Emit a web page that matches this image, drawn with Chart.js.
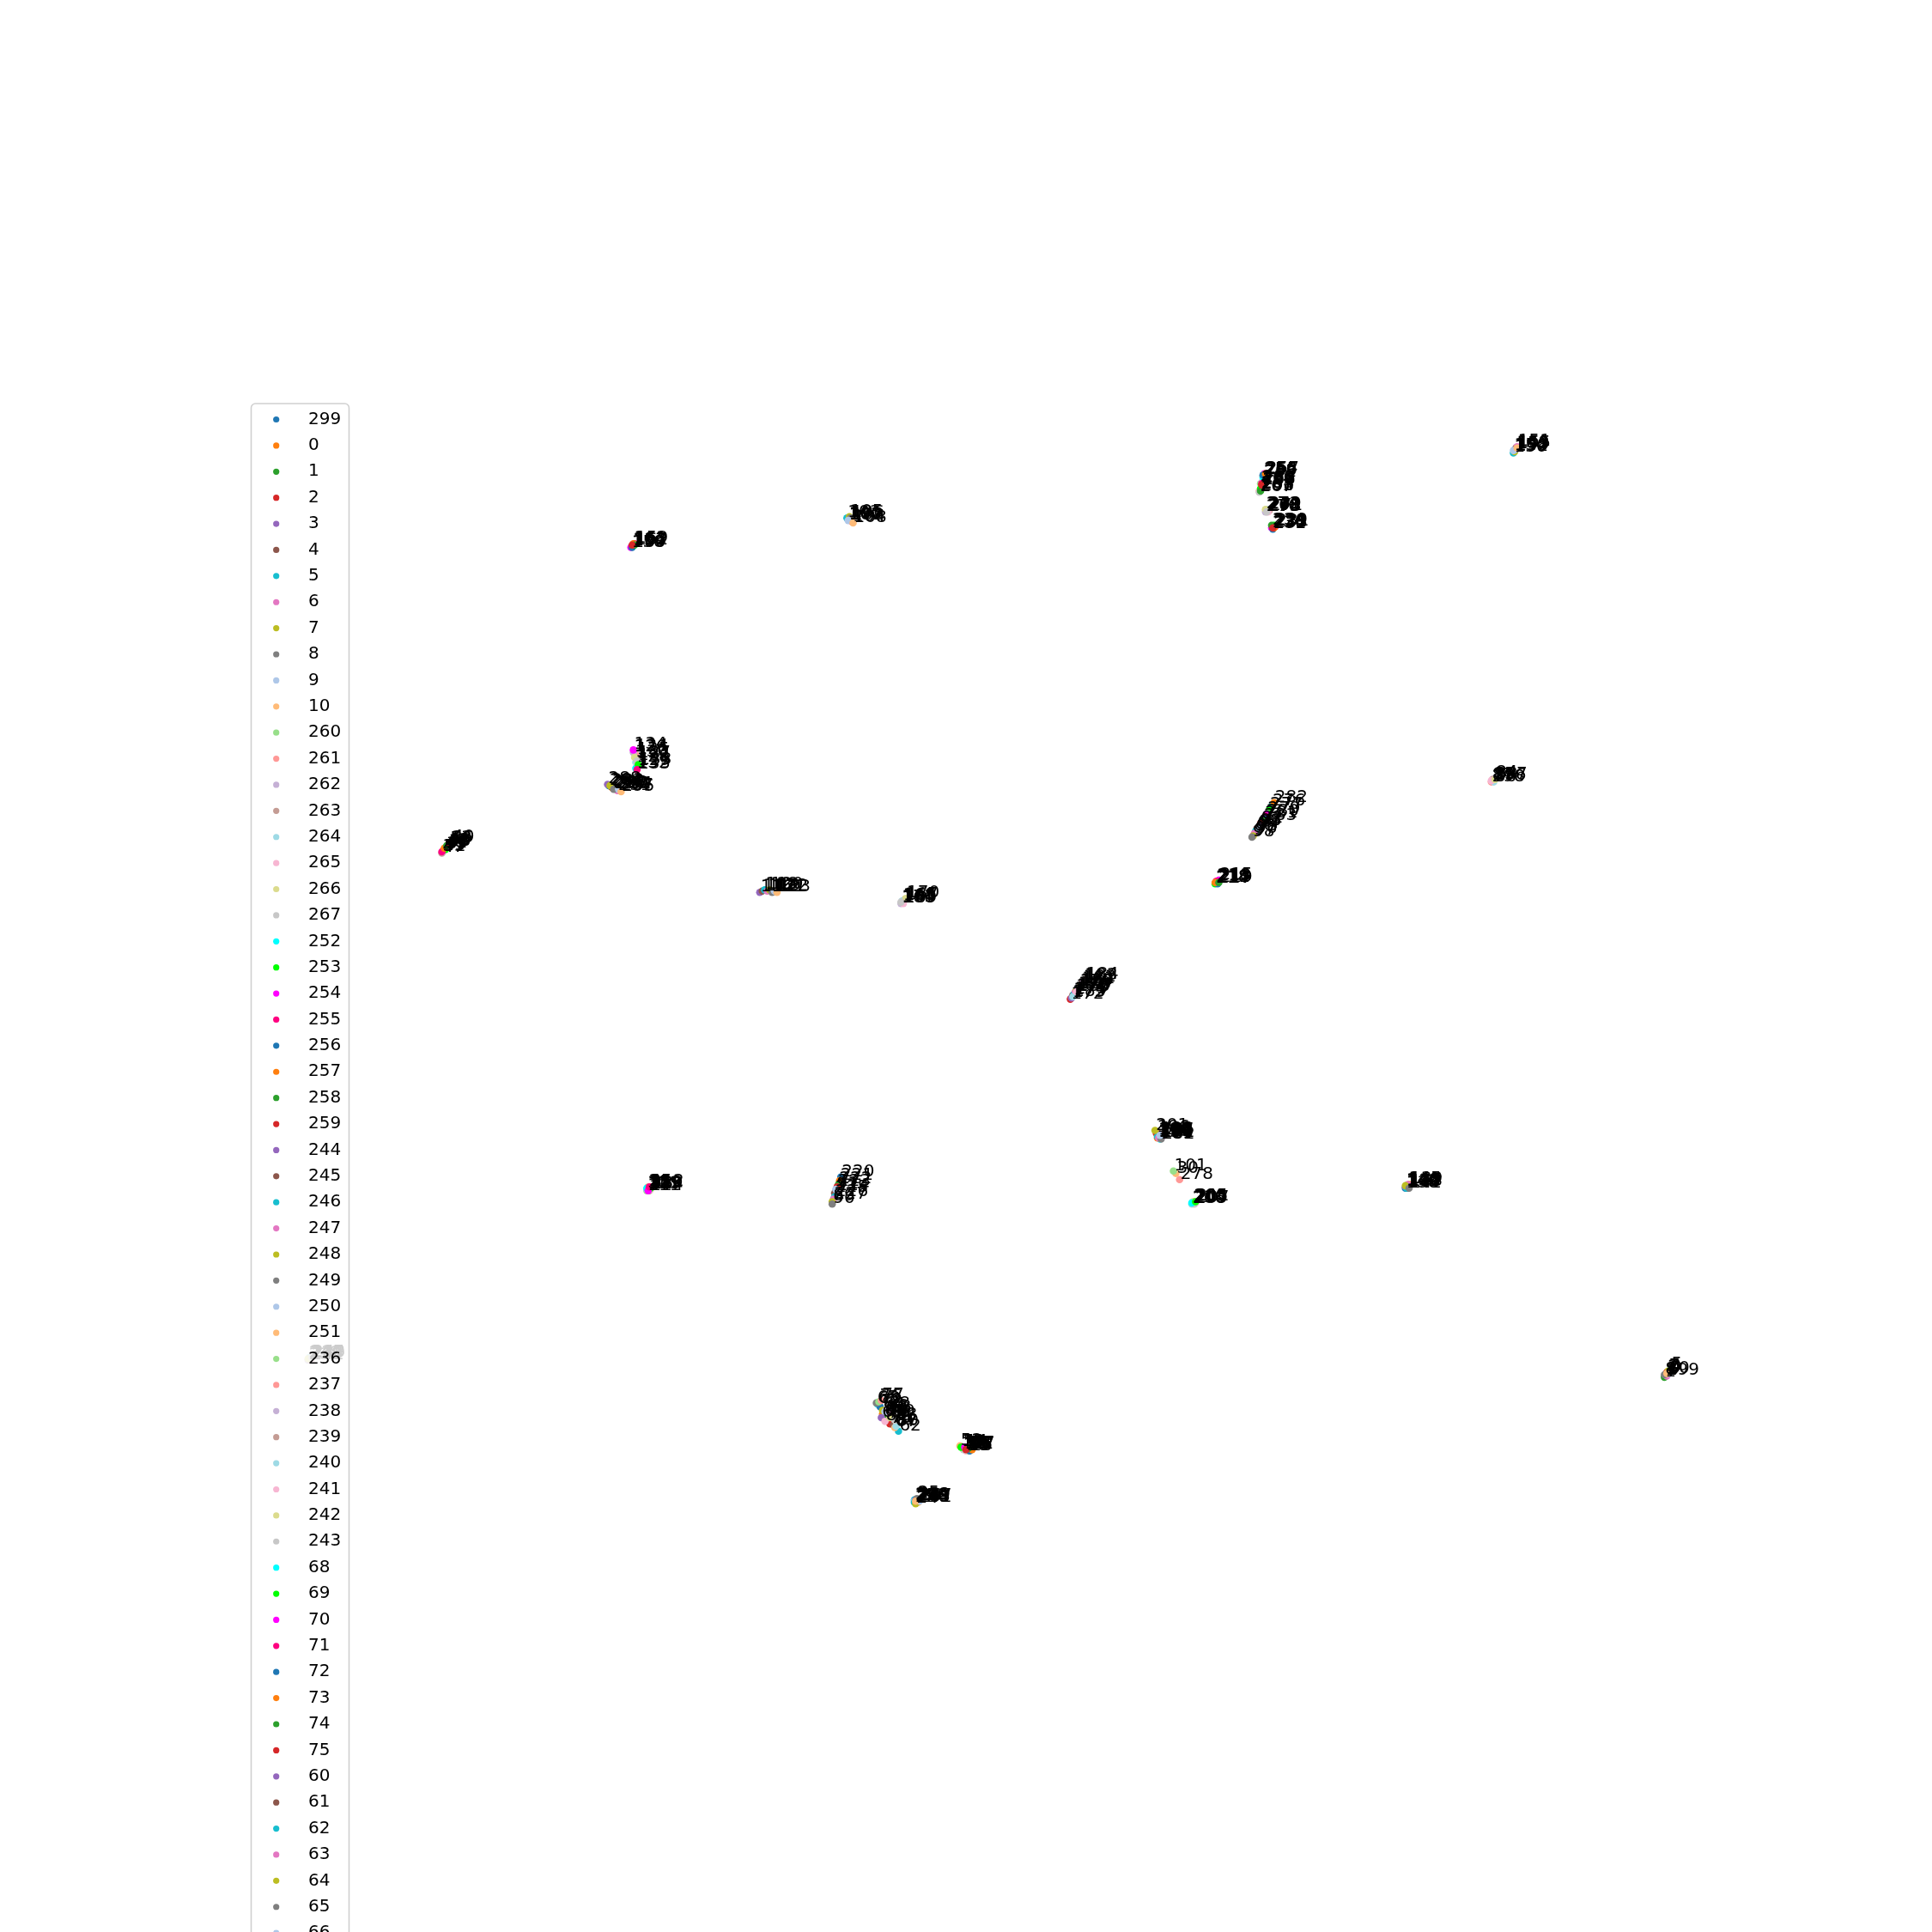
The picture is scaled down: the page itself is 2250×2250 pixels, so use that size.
<!DOCTYPE html>
<html>
<head>
<meta charset="utf-8">
<script src="https://cdn.jsdelivr.net/npm/chart.js@4.4.1/dist/chart.umd.min.js"></script>
<style>
  html, body { margin: 0; padding: 0; background: #ffffff; }
  #wrap { width: 2250px; height: 2250px; }
</style>
</head>
<body>
<div id="wrap"><canvas id="c" width="2250" height="2250"></canvas></div>
<script>
// ---- data (plotting / legend order), one segment per line ----
const pointIds = [
  299,0,1,2,3,4,5,6,7,8,9,10,
  260,261,262,263,264,265,266,267,
  252,253,254,255,256,257,258,259,
  244,245,246,247,248,249,250,251,
  236,237,238,239,240,241,242,243,
  68,69,70,71,72,73,74,75,
  60,61,62,63,64,65,66,67,
  76,77,78,79,80,81,82,83,
  156,157,158,159,160,161,162,163,
  100,102,103,104,105,106,107,108,
  268,269,270,271,272,273,274,275,
  228,229,230,231,232,233,234,235,
  148,149,150,151,152,153,154,155,
  124,125,126,127,128,129,130,131,132,133,134,135,
  284,285,286,287,288,289,290,291,292,293,294,295,
  44,45,46,47,48,49,50,51,36,37,38,39,40,41,42,43,
  116,117,118,119,120,121,122,123,
  164,165,166,167,168,169,170,171,
  276,277,279,280,281,282,283,92,93,94,95,96,97,98,99,
  296,297,298,84,85,86,87,88,
  212,213,214,215,216,217,218,219,
  172,173,174,175,176,177,178,179,180,181,182,183,184,185,186,187,
  188,189,190,191,192,193,194,195,196,197,198,199,200,201,202,203,
  30,101,278,
  204,205,206,207,208,209,210,211,
  136,137,138,139,140,141,142,143,144,145,146,147,
  109,110,111,112,113,114,115,28,29,31,32,33,34,35,
  220,221,222,223,224,225,226,227,89,90,91,
  52,53,54,55,56,57,58,59,11,12,13,14,15,16,17,18,19,
  20,21,22,23,24,25,26,27
];
const pointX = [
  135.4,135.6,135.3,135.5,135.7,135.4,135.8,135.5,135.6,135.3,135.7,135.5,
  102.4,102.3,102.5,102.6,102.4,102.7,102.5,102.3,
  102.6,102.4,102.7,102.5,102.6,102.8,102.4,102.5,
  74.3,74.4,74.2,74.5,74.3,74.4,74.2,74.5,
  24.9,25.0,24.8,25.1,24.9,25.0,24.8,25.1,
  71.2,71.7,72.0,72.3,71.4,71.6,71.9,72.2,
  71.5,72.5,72.9,72.1,71.6,71.1,71.8,72.6,
  71.3,71.5,72.0,72.4,72.7,71.8,72.2,72.6,
  51.2,51.3,51.1,51.4,51.2,51.3,51.4,51.2,
  68.8,69.0,68.7,69.1,68.9,69.0,68.8,69.2,
  102.9,103.0,102.8,103.1,102.9,103.0,102.8,102.9,
  103.4,103.5,103.3,103.6,103.4,103.5,103.3,103.4,
  123.1,123.2,123.0,123.3,123.1,123.2,123.0,123.3,
  51.4,51.5,51.3,51.6,51.5,51.6,51.4,51.6,51.5,51.7,51.3,51.6,
  49.3,49.6,49.9,50.2,49.2,49.5,49.8,50.0,49.4,49.7,50.1,50.3,
  36.0,35.8,36.2,35.7,36.1,35.9,36.3,35.8,36.4,36.0,36.2,35.7,36.5,35.9,36.1,36.3,
  61.6,61.8,62.0,62.2,62.4,62.6,62.8,63.0,
  73.2,73.3,73.1,73.4,73.2,73.3,73.5,73.1,
  103.3,103.1,102.9,102.8,102.7,103.5,102.6,102.4,102.3,102.1,102.0,101.9,101.8,101.7,102.2,
  121.3,121.4,121.2,121.5,121.3,121.4,121.2,121.5,
  98.8,98.9,98.7,99.0,98.8,98.9,98.7,99.0,
  86.9,87.0,87.1,87.2,87.3,87.4,87.5,87.6,87.7,87.8,87.9,88.0,88.1,87.1,87.4,87.7,
  94.1,94.2,94.0,94.3,94.1,94.2,94.0,94.3,93.9,94.1,94.2,94.0,94.1,93.8,94.3,94.2,
  95.5,95.3,95.8,
  96.9,97.0,96.8,97.1,96.9,97.0,96.8,97.1,
  114.3,114.4,114.2,114.5,114.3,114.4,114.2,114.5,114.3,114.4,114.2,114.5,
  52.5,52.6,52.4,52.7,52.5,52.6,52.4,52.7,52.5,52.6,52.4,52.7,52.5,52.6,
  68.2,68.1,68.0,67.9,67.8,67.7,67.7,67.6,67.5,67.5,67.8,
  77.9,78.1,78.3,78.5,78.7,78.9,78.4,78.6,78.2,78.8,78.0,78.3,78.5,78.7,78.9,78.6,78.4,
  74.3,74.4,74.2,74.5,74.3,74.4,74.6,74.3
];
const pointY = [
  111.8,111.6,111.9,111.5,111.4,111.7,111.3,111.8,111.4,111.7,111.6,111.6,
  39.1,39.7,39.0,38.5,39.6,38.4,39.2,39.8,
  38.6,39.5,38.3,39.1,38.4,38.3,39.7,39.2,
  122.0,122.1,121.9,122.0,122.1,121.9,122.0,122.1,
  110.4,110.3,110.5,110.4,110.3,110.5,110.4,110.3,
  114.1,115.1,115.3,115.6,114.3,114.9,115.0,115.7,
  115.2,115.8,116.3,114.8,114.6,114.0,114.7,116.0,
  113.9,113.8,114.5,115.1,115.9,115.5,115.2,115.4,
  44.2,44.1,44.3,44.0,44.3,44.0,44.1,44.1,
  42.0,42.1,41.9,42.2,41.8,41.9,42.1,42.3,
  41.3,41.2,41.4,41.3,41.2,41.4,41.2,41.4,
  42.6,42.5,42.7,42.6,42.8,42.7,42.5,42.7,
  36.4,36.2,36.6,36.1,36.5,36.3,36.4,36.2,
  60.9,61.2,61.0,61.5,61.8,62.1,61.4,61.7,62.3,62.0,60.8,62.4,
  63.7,63.9,64.0,64.1,63.6,63.8,63.9,64.1,63.7,64.0,64.0,64.2,
  68.8,69.0,68.6,69.2,68.7,68.9,68.5,69.1,68.4,68.9,68.7,69.1,68.3,68.8,68.6,68.4,
  72.4,72.3,72.2,72.3,72.2,72.4,72.3,72.4,
  73.2,73.1,73.3,73.0,73.1,73.3,72.9,73.2,
  65.4,65.7,66.0,66.2,66.4,65.1,66.6,66.8,67.0,67.2,67.4,67.6,67.8,67.9,67.1,
  63.3,63.2,63.4,63.1,63.2,63.4,63.3,63.2,
  71.6,71.5,71.7,71.4,71.5,71.7,71.6,71.6,
  81.1,81.0,80.8,80.7,80.5,80.4,80.3,80.1,80.0,79.9,79.7,79.6,79.5,80.9,80.5,80.1,
  92.3,92.5,92.2,92.4,92.1,92.3,92.4,92.2,92.0,92.2,92.1,92.3,92.4,91.8,92.5,92.2,
  95.3,95.1,95.8,
  97.7,97.6,97.8,97.7,97.6,97.8,97.7,97.6,
  96.4,96.3,96.5,96.2,96.3,96.5,96.4,96.4,96.5,96.2,96.3,96.5,
  96.6,96.5,96.7,96.4,96.5,96.7,96.6,96.6,96.4,96.6,96.5,96.5,96.7,96.4,
  95.6,95.9,96.2,96.4,96.7,96.9,97.2,97.4,97.6,97.8,96.6,
  117.5,117.6,117.7,117.8,117.8,117.7,117.9,117.9,117.8,117.8,117.6,117.6,117.7,117.9,117.8,117.7,117.8,
  121.9,122.0,122.1,121.9,122.2,121.8,122.0,122.0
];
const palette = [
  '#1f77b4','#ff7f0e','#2ca02c','#d62728','#9467bd','#8c564b','#17becf','#e377c2',
  '#bcbd22','#7f7f7f','#aec7e8','#ffbb78','#98df8a','#ff9896','#c5b0d5','#c49c94',
  '#9edae5','#f7b6d2','#dbdb8d','#c7c7c7','#00ffff','#00ff00','#ff00ff','#ff0080'
];

// ---- build chart ----
const FONT = '20px "DejaVu Sans"';
const N = pointIds.length;
const datasets = pointIds.map((id, i) => ({
  label: String(id),
  data: [{ x: pointX[i], y: pointY[i] }],
  backgroundColor: palette[i % palette.length],
  borderWidth: 0,
  pointRadius: 4.3,
  pointHoverRadius: 4.3,
  order: N - 1 - i
}));

const labelPlugin = {
  id: 'pointLabels',
  afterDatasetsDraw(chart) {
    const ctx = chart.ctx;
    ctx.save();
    ctx.font = FONT;
    ctx.fillStyle = '#000000';
    ctx.textAlign = 'left';
    ctx.textBaseline = 'alphabetic';
    chart.data.datasets.forEach((ds, i) => {
      const el = chart.getDatasetMeta(i).data[0];
      if (!el) return;
      ctx.fillText(ds.label, el.x + 1, el.y - 1);
    });
    ctx.restore();
  }
};

const legendPlugin = {
  id: 'boxLegend',
  afterDraw(chart) {
    const ctx = chart.ctx;
    const left = 292.5, top = 470, width = 114;
    const rowH = 30.39, firstY = 488.5;
    const height = firstY - top + rowH * chart.data.datasets.length + 20;
    ctx.save();
    ctx.beginPath();
    if (ctx.roundRect) ctx.roundRect(left, top, width, height, 5);
    else ctx.rect(left, top, width, height);
    ctx.fillStyle = 'rgba(255,255,255,0.8)';
    ctx.fill();
    ctx.lineWidth = 1.6;
    ctx.strokeStyle = '#d0d0d0';
    ctx.stroke();
    ctx.font = FONT;
    ctx.textAlign = 'left';
    ctx.textBaseline = 'middle';
    chart.data.datasets.forEach((ds, i) => {
      const y = firstY + i * rowH;
      if (y > chart.height + 40) return;
      ctx.beginPath();
      ctx.arc(321.7, y, 3.6, 0, Math.PI * 2);
      ctx.fillStyle = ds.backgroundColor;
      ctx.fill();
      ctx.fillStyle = '#000000';
      ctx.fillText(ds.label, 359, y);
    });
    ctx.restore();
  }
};

new Chart(document.getElementById('c'), {
  type: 'scatter',
  data: { datasets },
  options: {
    responsive: false,
    animation: false,
    devicePixelRatio: 1,
    layout: { padding: 0 },
    scales: {
      x: { type: 'linear', min: 0, max: 156.8, display: false },
      y: { type: 'linear', min: 0, max: 156.8, reverse: true, display: false }
    },
    plugins: {
      legend: { display: false },
      tooltip: { enabled: false },
      title: { display: false }
    },
    events: []
  },
  plugins: [labelPlugin, legendPlugin]
});
</script>
</body>
</html>
